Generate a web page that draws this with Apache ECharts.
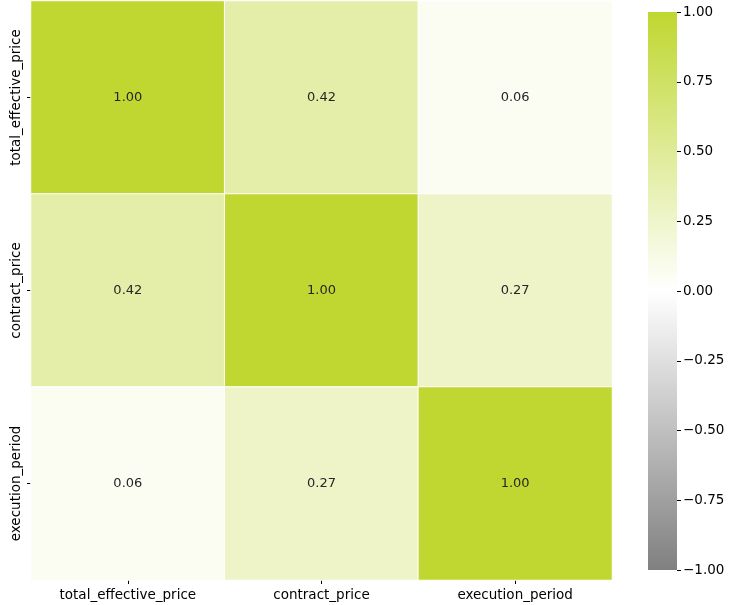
<!DOCTYPE html>
<html>
<head>
<meta charset="utf-8">
<script src="https://cdn.jsdelivr.net/npm/echarts@6/dist/echarts.min.js"></script>
<style>
  html, body { margin: 0; padding: 0; background: #ffffff; }
  #chart { width: 729px; height: 605px; }
</style>
</head>
<body>
<div id="chart"></div>
<script>
// Correlation matrix of contract variables
const variables = ['total_effective_price', 'contract_price', 'execution_period'];
const correlations = [
  [1.00, 0.42, 0.06],
  [0.42, 1.00, 0.27],
  [0.06, 0.27, 1.00]
];
const colorbarTicks = [-1.00, -0.75, -0.50, -0.25, 0.00, 0.25, 0.50, 0.75, 1.00];
const paletteStops = ['#808080', '#ffffff', '#bfd730'];

const FONT = 'DejaVu Sans';

// heatmap cells: [xIndex, yIndex, value]
const cells = [];
correlations.forEach((row, i) => {
  row.forEach((v, j) => cells.push([j, i, v]));
});

function fmtTick(v) {
  const s = Math.abs(v).toFixed(2);
  return v < 0 ? '\u2212' + s : s;
}

const chart = echarts.init(document.getElementById('chart'), null, { renderer: 'canvas' });

const option = {
  backgroundColor: '#ffffff',
  animation: false,
  grid: [
    { left: 31, top: 1, width: 581, height: 579 },
    { left: 648, top: 12, width: 29, height: 558 }
  ],
  xAxis: [
    {
      type: 'category', gridIndex: 0, data: variables, position: 'bottom',
      axisLine: { show: false },
      axisTick: { show: true, alignWithLabel: true, length: 4, lineStyle: { color: '#000', width: 1 } },
      axisLabel: { color: '#000', fontFamily: FONT, fontSize: 13.5, margin: 8 },
      splitLine: { show: false }
    },
    {
      type: 'category', gridIndex: 1, data: ['cb'],
      axisLine: { show: false }, axisTick: { show: false }, axisLabel: { show: false }
    }
  ],
  yAxis: [
    {
      type: 'category', gridIndex: 0, data: variables, inverse: true,
      axisLine: { show: false },
      axisTick: { show: true, alignWithLabel: true, length: 4, lineStyle: { color: '#000', width: 1 } },
      axisLabel: { color: '#000', fontFamily: FONT, fontSize: 13.5, rotate: 90, margin: 8 },
      splitLine: { show: false }
    },
    {
      type: 'value', gridIndex: 1, min: -1, max: 1, interval: 0.25, position: 'right',
      axisLine: { show: false },
      axisTick: { show: true, length: 4, lineStyle: { color: '#000', width: 1 } },
      axisLabel: { color: '#000', fontFamily: FONT, fontSize: 13.5, margin: 6, formatter: fmtTick },
      splitLine: { show: false }
    }
  ],
  visualMap: {
    show: false,
    type: 'continuous',
    min: -1, max: 1,
    seriesIndex: 0,
    inRange: { color: paletteStops }
  },
  series: [
    {
      type: 'heatmap',
      xAxisIndex: 0, yAxisIndex: 0,
      data: cells,
      itemStyle: { borderColor: '#ffffff', borderWidth: 1 },
      label: {
        show: true,
        color: '#262626',
        fontFamily: FONT,
        fontSize: 13,
        formatter: p => p.value[2].toFixed(2)
      },
      emphasis: { disabled: true }
    },
    {
      // colour bar: a single bar spanning the colour scale with a vertical gradient
      type: 'custom',
      xAxisIndex: 1, yAxisIndex: 1,
      data: [[0, colorbarTicks[0], colorbarTicks[colorbarTicks.length - 1]]],
      renderItem: function (params, api) {
        const top = api.coord([0, api.value(2)]);
        const bottom = api.coord([0, api.value(1)]);
        const cs = params.coordSys;
        return {
          type: 'rect',
          shape: { x: cs.x, y: top[1], width: cs.width, height: bottom[1] - top[1] },
          style: {
            fill: new echarts.graphic.LinearGradient(0, 0, 0, 1, [
              { offset: 0, color: paletteStops[2] },
              { offset: 0.5, color: paletteStops[1] },
              { offset: 1, color: paletteStops[0] }
            ])
          }
        };
      }
    }
  ]
};

chart.setOption(option);
</script>
</body>
</html>
